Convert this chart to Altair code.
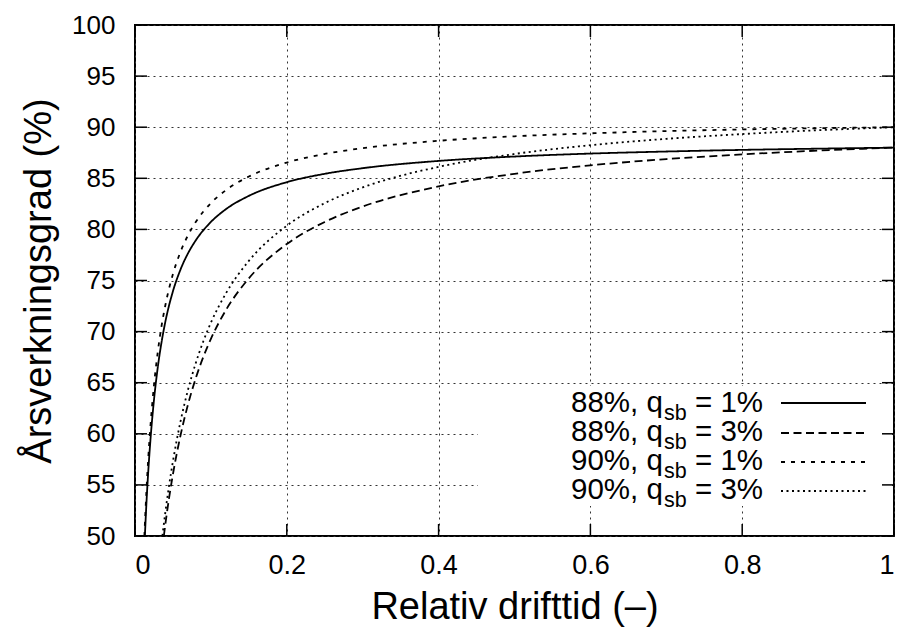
import altair as alt
import pandas as pd

FONT = "Liberation Sans"
W, H = 759, 511

series_names = ["88%, q_sb = 1%", "88%, q_sb = 3%", "90%, q_sb = 1%", "90%, q_sb = 3%"]

# 88 %, q_sb = 1 %
t_a = [0.013, 0.015, 0.0175, 0.02, 0.025, 0.03, 0.035, 0.04, 0.05, 0.06, 0.07, 0.08, 0.1, 0.12, 0.15,
       0.2, 0.25, 0.3, 0.4, 0.5, 0.6, 0.7, 0.8, 0.9, 1.0]
eta_a = [50.0, 53.12, 56.36, 59.06, 63.31, 66.50, 68.98, 70.97, 73.95, 76.08, 77.68, 78.92, 80.73, 81.99, 83.28,
         84.62, 85.44, 85.99, 86.70, 87.13, 87.42, 87.62, 87.78, 87.90, 88.0]
# 88 %, q_sb = 3 %
t_b = [0.038, 0.04, 0.045, 0.05, 0.06, 0.07, 0.08, 0.09, 0.1, 0.12, 0.15, 0.2, 0.25, 0.3, 0.4,
       0.5, 0.6, 0.7, 0.8, 0.9, 1.0]
eta_b = [50.0, 51.16, 53.77, 56.05, 59.86, 62.92, 65.43, 67.52, 69.29, 72.13, 75.21, 78.57, 80.73, 82.24, 84.21,
         85.44, 86.27, 86.88, 87.34, 87.71, 88.0]
# 90 %, q_sb = 1 %
t_c = [0.01235, 0.015, 0.0175, 0.02, 0.025, 0.03, 0.035, 0.04, 0.05, 0.06, 0.07, 0.08, 0.1, 0.12, 0.15,
       0.2, 0.25, 0.3, 0.4, 0.5, 0.6, 0.7, 0.8, 0.9, 1.0]
eta_c = [50.0, 54.33, 57.64, 60.40, 64.75, 68.01, 70.55, 72.58, 75.63, 77.81, 79.45, 80.72, 82.57, 83.85, 85.17,
         86.54, 87.38, 87.95, 88.67, 89.11, 89.40, 89.62, 89.78, 89.90, 90.0]
# 90 %, q_sb = 3 %
t_d = [0.0361, 0.04, 0.045, 0.05, 0.06, 0.07, 0.08, 0.09, 0.1, 0.12, 0.15, 0.2, 0.25, 0.3, 0.4,
       0.5, 0.6, 0.7, 0.8, 0.9, 1.0]
eta_d = [50.0, 52.33, 54.99, 57.32, 61.22, 64.35, 66.91, 69.05, 70.87, 73.77, 76.92, 80.36, 82.57, 84.11, 86.12,
         87.38, 88.24, 88.86, 89.33, 89.70, 90.0]

x_ticks = [0, 0.2, 0.4, 0.6, 0.8, 1.0]
y_ticks = [50, 55, 60, 65, 70, 75, 80, 85, 90, 95, 100]

legend_pre = ["88%, q", "88%, q", "90%, q", "90%, q"]
legend_sub = ["sb", "sb", "sb", "sb"]
legend_post = ["= 1%", "= 3%", "= 1%", "= 3%"]

dashes = [[1, 0], [8, 4.5], [4, 6], [2, 3.5]]

rows = []
for name, ts, es in zip(series_names, [t_a, t_b, t_c, t_d], [eta_a, eta_b, eta_c, eta_d]):
    for t, e in zip(ts, es):
        rows.append({"series": name, "t": t, "eta": e})
df = pd.DataFrame(rows)

x_scale = alt.Scale(domain=[0, 1], nice=False, zero=False)
y_scale = alt.Scale(domain=[50, 100], nice=False, zero=False)

x_axis = alt.Axis(values=x_ticks, format="~g", grid=True, ticks=False, tickSize=0, domain=False,
                  labelFontSize=27, labelPadding=16, title="Relativ drifttid (–)", titlePadding=10)
y_axis = alt.Axis(values=y_ticks, format="d", grid=True, ticks=False, tickSize=0, domain=False,
                  labelFontSize=26, labelPadding=20, title="Årsverkningsgrad (%)", titlePadding=13)

curves = alt.Chart(df).mark_line(color="black", strokeWidth=1.8, clip=True, interpolate="monotone").encode(
    x=alt.X("t:Q", scale=x_scale, axis=x_axis),
    y=alt.Y("eta:Q", scale=y_scale, axis=y_axis),
    strokeDash=alt.StrokeDash("series:N", scale=alt.Scale(domain=series_names, range=dashes), legend=None),
    detail="series:N",
)

box = alt.Chart(pd.DataFrame({"a": [0]})).mark_rect(fill="white").encode(
    x=alt.value(343), x2=alt.value(757), y=alt.value(361), y2=alt.value(481)
)

xt = pd.DataFrame({"t": x_ticks})
yt = pd.DataFrame({"eta": y_ticks})
TL = 12
tick_style = dict(color="black", strokeWidth=1.5)
bottom_ticks = alt.Chart(xt).mark_rule(**tick_style).encode(
    x=alt.X("t:Q", scale=x_scale, axis=x_axis), y=alt.value(H), y2=alt.value(H - TL))
top_ticks = alt.Chart(xt).mark_rule(**tick_style).encode(
    x=alt.X("t:Q", scale=x_scale, axis=x_axis), y=alt.value(0), y2=alt.value(TL))
left_ticks = alt.Chart(yt).mark_rule(**tick_style).encode(
    y=alt.Y("eta:Q", scale=y_scale, axis=y_axis), x=alt.value(0), x2=alt.value(TL))
right_ticks = alt.Chart(yt).mark_rule(**tick_style).encode(
    y=alt.Y("eta:Q", scale=y_scale, axis=y_axis), x=alt.value(W - TL), x2=alt.value(W))

layers = [box, curves, bottom_ticks, top_ticks, left_ticks, right_ticks]

LX = 436
row_base = [387, 416, 445, 474]
line_y = [378, 408, 437, 466]
for i in range(4):
    base = row_base[i]
    layers.append(alt.Chart(pd.DataFrame({"s": [legend_pre[i]]})).mark_text(
        align="left", baseline="alphabetic", fontSize=29.5, font=FONT, color="black").encode(
        x=alt.value(LX), y=alt.value(base), text="s:N"))
    layers.append(alt.Chart(pd.DataFrame({"s": [legend_sub[i]]})).mark_text(
        align="left", baseline="alphabetic", fontSize=21.5, font=FONT, color="black").encode(
        x=alt.value(LX + 93), y=alt.value(base + 8), text="s:N"))
    layers.append(alt.Chart(pd.DataFrame({"s": [legend_post[i]]})).mark_text(
        align="left", baseline="alphabetic", fontSize=29.5, font=FONT, color="black").encode(
        x=alt.value(LX + 124), y=alt.value(base), text="s:N"))
    layers.append(alt.Chart(pd.DataFrame({"s": [series_names[i]]})).mark_rule(
        color="black", strokeWidth=1.8, strokeDash=dashes[i]).encode(
        x=alt.value(646), x2=alt.value(731), y=alt.value(line_y[i])))

chart = alt.layer(*layers).properties(
    width=W, height=H,
    autosize=alt.AutoSizeParams(type="none"),
    padding={"left": 135, "top": 25, "right": 6, "bottom": 94},
).configure_view(
    stroke="black", strokeWidth=2
).configure_axis(
    labelFont=FONT, titleFont=FONT, titleFontSize=38,
    titleFontWeight="normal", labelColor="black", titleColor="black",
    gridColor="#333333", gridDash=[2, 4], gridWidth=1, gridOpacity=1,
)

chart.save("out.html", embed_options={"renderer": "svg", "actions": False})
